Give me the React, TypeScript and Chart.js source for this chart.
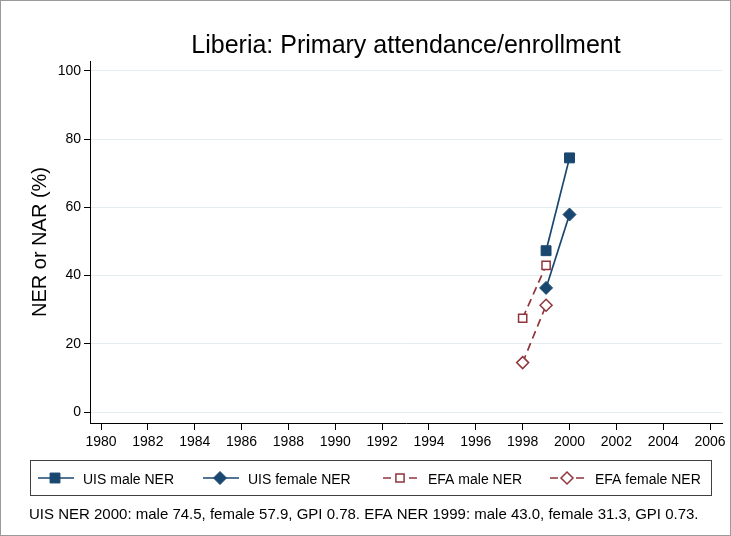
import React, { useEffect, useRef } from 'react';
import { Chart, registerables } from 'chart.js';

Chart.register(...registerables);

const TITLE = 'Liberia: Primary attendance/enrollment';
const Y_TITLE = 'NER or NAR (%)';
const NOTE = 'UIS NER 2000: male 74.5, female 57.9, GPI 0.78. EFA NER 1999: male 43.0, female 31.3, GPI 0.73.';

const xTicks = [1980, 1982, 1984, 1986, 1988, 1990, 1992, 1994, 1996, 1998, 2000, 2002, 2004, 2006];
const yTicks = [0, 20, 40, 60, 80, 100];

const uisYears = [1999, 2000];
const uisMale = [47.3, 74.5];
const uisFemale = [36.4, 57.9];

const efaYears = [1998, 1999];
const efaMale = [27.5, 43.0];
const efaFemale = [14.5, 31.3];

const seriesLabels = ['UIS male NER', 'UIS female NER', 'EFA male NER', 'EFA female NER'];

const NAVY = '#1a476f';
const MAROON = '#90353b';
const FONT = '"Liberation Sans", Arial, Helvetica, sans-serif';

function pts(xs: number[], ys: number[]) {
  return xs.map((x, i) => ({ x, y: ys[i] }));
}

function drawMarker(ctx: CanvasRenderingContext2D, style: string, x: number, y: number, r: number, fill: string, stroke: string, lw: number) {
  ctx.save();
  ctx.beginPath();
  if (style === 'rect') {
    const s = Math.SQRT1_2 * r;
    ctx.rect(x - s, y - s, 2 * s, 2 * s);
  } else {
    ctx.moveTo(x - r, y);
    ctx.lineTo(x, y - r);
    ctx.lineTo(x + r, y);
    ctx.lineTo(x, y + r);
    ctx.closePath();
  }
  ctx.setLineDash([]);
  ctx.fillStyle = fill;
  ctx.fill();
  ctx.lineWidth = lw;
  ctx.strokeStyle = stroke;
  ctx.stroke();
  ctx.restore();
}

const decorPlugin = {
  id: 'decor',
  afterDraw(chart: any) {
    const ctx: CanvasRenderingContext2D = chart.ctx;
    const ca = chart.chartArea;
    ctx.save();
    // title
    ctx.fillStyle = '#000';
    ctx.font = `25px ${FONT}`;
    ctx.textAlign = 'center';
    ctx.textBaseline = 'alphabetic';
    ctx.fillText(TITLE, (ca.left + ca.right) / 2, 53);

    // y title
    ctx.save();
    ctx.translate(40, (ca.top + ca.bottom) / 2);
    ctx.rotate(-Math.PI / 2);
    ctx.font = `20px ${FONT}`;
    ctx.textAlign = 'center';
    ctx.textBaseline = 'middle';
    ctx.fillText(Y_TITLE, 0, 0);
    ctx.restore();

    // legend box
    ctx.strokeStyle = '#404040';
    ctx.lineWidth = 1;
    ctx.strokeRect(30.5, 460.5, 681, 35);
    const starts = [38, 203, 383, 550];
    const ly = 478;
    chart.data.datasets.forEach((ds: any, i: number) => {
      const x0 = starts[i];
      ctx.save();
      ctx.beginPath();
      ctx.strokeStyle = ds.borderColor;
      ctx.lineWidth = ds.borderWidth;
      ctx.setLineDash(ds.borderDash || []);
      ctx.moveTo(x0, ly);
      ctx.lineTo(x0 + 36, ly);
      ctx.stroke();
      ctx.restore();
      drawMarker(ctx, ds.pointStyle, x0 + 17, ly, ds.pointRadius, ds.pointBackgroundColor, ds.pointBorderColor, ds.pointBorderWidth);
      ctx.fillStyle = '#000';
      ctx.font = `14px ${FONT}`;
      ctx.textAlign = 'left';
      ctx.textBaseline = 'alphabetic';
      ctx.fillText(ds.label, x0 + 45, 484);
    });

    // note
    ctx.fillStyle = '#000';
    ctx.font = `15px ${FONT}`;
    ctx.textAlign = 'left';
    ctx.textBaseline = 'alphabetic';
    ctx.fillText(NOTE, 29, 519);

    // outer frame
    ctx.strokeStyle = '#9a9a9a';
    ctx.lineWidth = 1;
    ctx.strokeRect(0.5, 0.5, 730, 535);
    ctx.restore();
  },
};

export default function App() {
  const ref = useRef<HTMLCanvasElement | null>(null);
  useEffect(() => {
    if (!ref.current) return;
    const chart = new Chart(ref.current, {
      type: 'line',
      data: {
        datasets: [
          {
            label: seriesLabels[0],
            data: pts(uisYears, uisMale),
            borderColor: NAVY,
            borderWidth: 1.7,
            pointStyle: 'rect',
            pointRadius: 7,
            pointBackgroundColor: NAVY,
            pointBorderColor: NAVY,
            pointBorderWidth: 1,
          },
          {
            label: seriesLabels[1],
            data: pts(uisYears, uisFemale),
            borderColor: NAVY,
            borderWidth: 1.7,
            pointStyle: 'rectRot',
            pointRadius: 6.5,
            pointBackgroundColor: NAVY,
            pointBorderColor: NAVY,
            pointBorderWidth: 1,
          },
          {
            label: seriesLabels[2],
            data: pts(efaYears, efaMale),
            borderColor: MAROON,
            borderWidth: 1.7,
            borderDash: [8, 5],
            pointStyle: 'rect',
            pointRadius: 5.8,
            pointBackgroundColor: '#ffffff',
            pointBorderColor: MAROON,
            pointBorderWidth: 1.5,
          },
          {
            label: seriesLabels[3],
            data: pts(efaYears, efaFemale),
            borderColor: MAROON,
            borderWidth: 1.7,
            borderDash: [8, 5],
            pointStyle: 'rectRot',
            pointRadius: 6,
            pointBackgroundColor: '#ffffff',
            pointBorderColor: MAROON,
            pointBorderWidth: 1.5,
          },
        ] as any,
      },
      options: {
        animation: false,
        responsive: false,
        devicePixelRatio: 1,
        layout: { padding: { top: 61, right: 9, bottom: 0, left: 0 } },
        plugins: {
          legend: { display: false },
          title: { display: false },
          tooltip: { enabled: false },
        },
        elements: { line: { tension: 0 } },
        scales: {
          x: {
            type: 'linear',
            min: 1979.53,
            max: 2006.51,
            afterBuildTicks: (axis: any) => {
              axis.ticks = xTicks.map((v) => ({ value: v }));
            },
            afterFit: (scale: any) => {
              scale.height = 113;
            },
            grid: {
              drawOnChartArea: false,
              drawTicks: true,
              tickLength: 7,
              tickColor: '#000',
              tickWidth: 1,
            },
            border: { display: true, color: '#000', width: 1 },
            ticks: {
              autoSkip: false,
              maxRotation: 0,
              color: '#000',
              padding: 4,
              font: { family: FONT, size: 14 },
              callback: (v: any) => String(v),
            },
          },
          y: {
            type: 'linear',
            min: -3.2,
            max: 102.9,
            afterBuildTicks: (axis: any) => {
              axis.ticks = yTicks.map((v) => ({ value: v }));
            },
            afterFit: (scale: any) => {
              scale.width = 90;
            },
            grid: {
              color: '#e4edf0',
              lineWidth: 1,
              drawTicks: true,
              tickLength: 6,
              tickColor: '#000',
              tickWidth: 1,
            },
            border: { display: true, color: '#000', width: 1 },
            ticks: {
              color: '#000',
              padding: 3,
              font: { family: FONT, size: 14 },
              callback: (v: any) => String(v),
            },
          },
        },
      },
      plugins: [decorPlugin],
    } as any);
    return () => chart.destroy();
  }, []);
  return (
    <div style={{ position: 'absolute', left: 0, top: 0, width: 731, height: 536, background: '#fff' }}>
      <canvas ref={ref} width={731} height={536} style={{ display: 'block' }} />
    </div>
  );
}
